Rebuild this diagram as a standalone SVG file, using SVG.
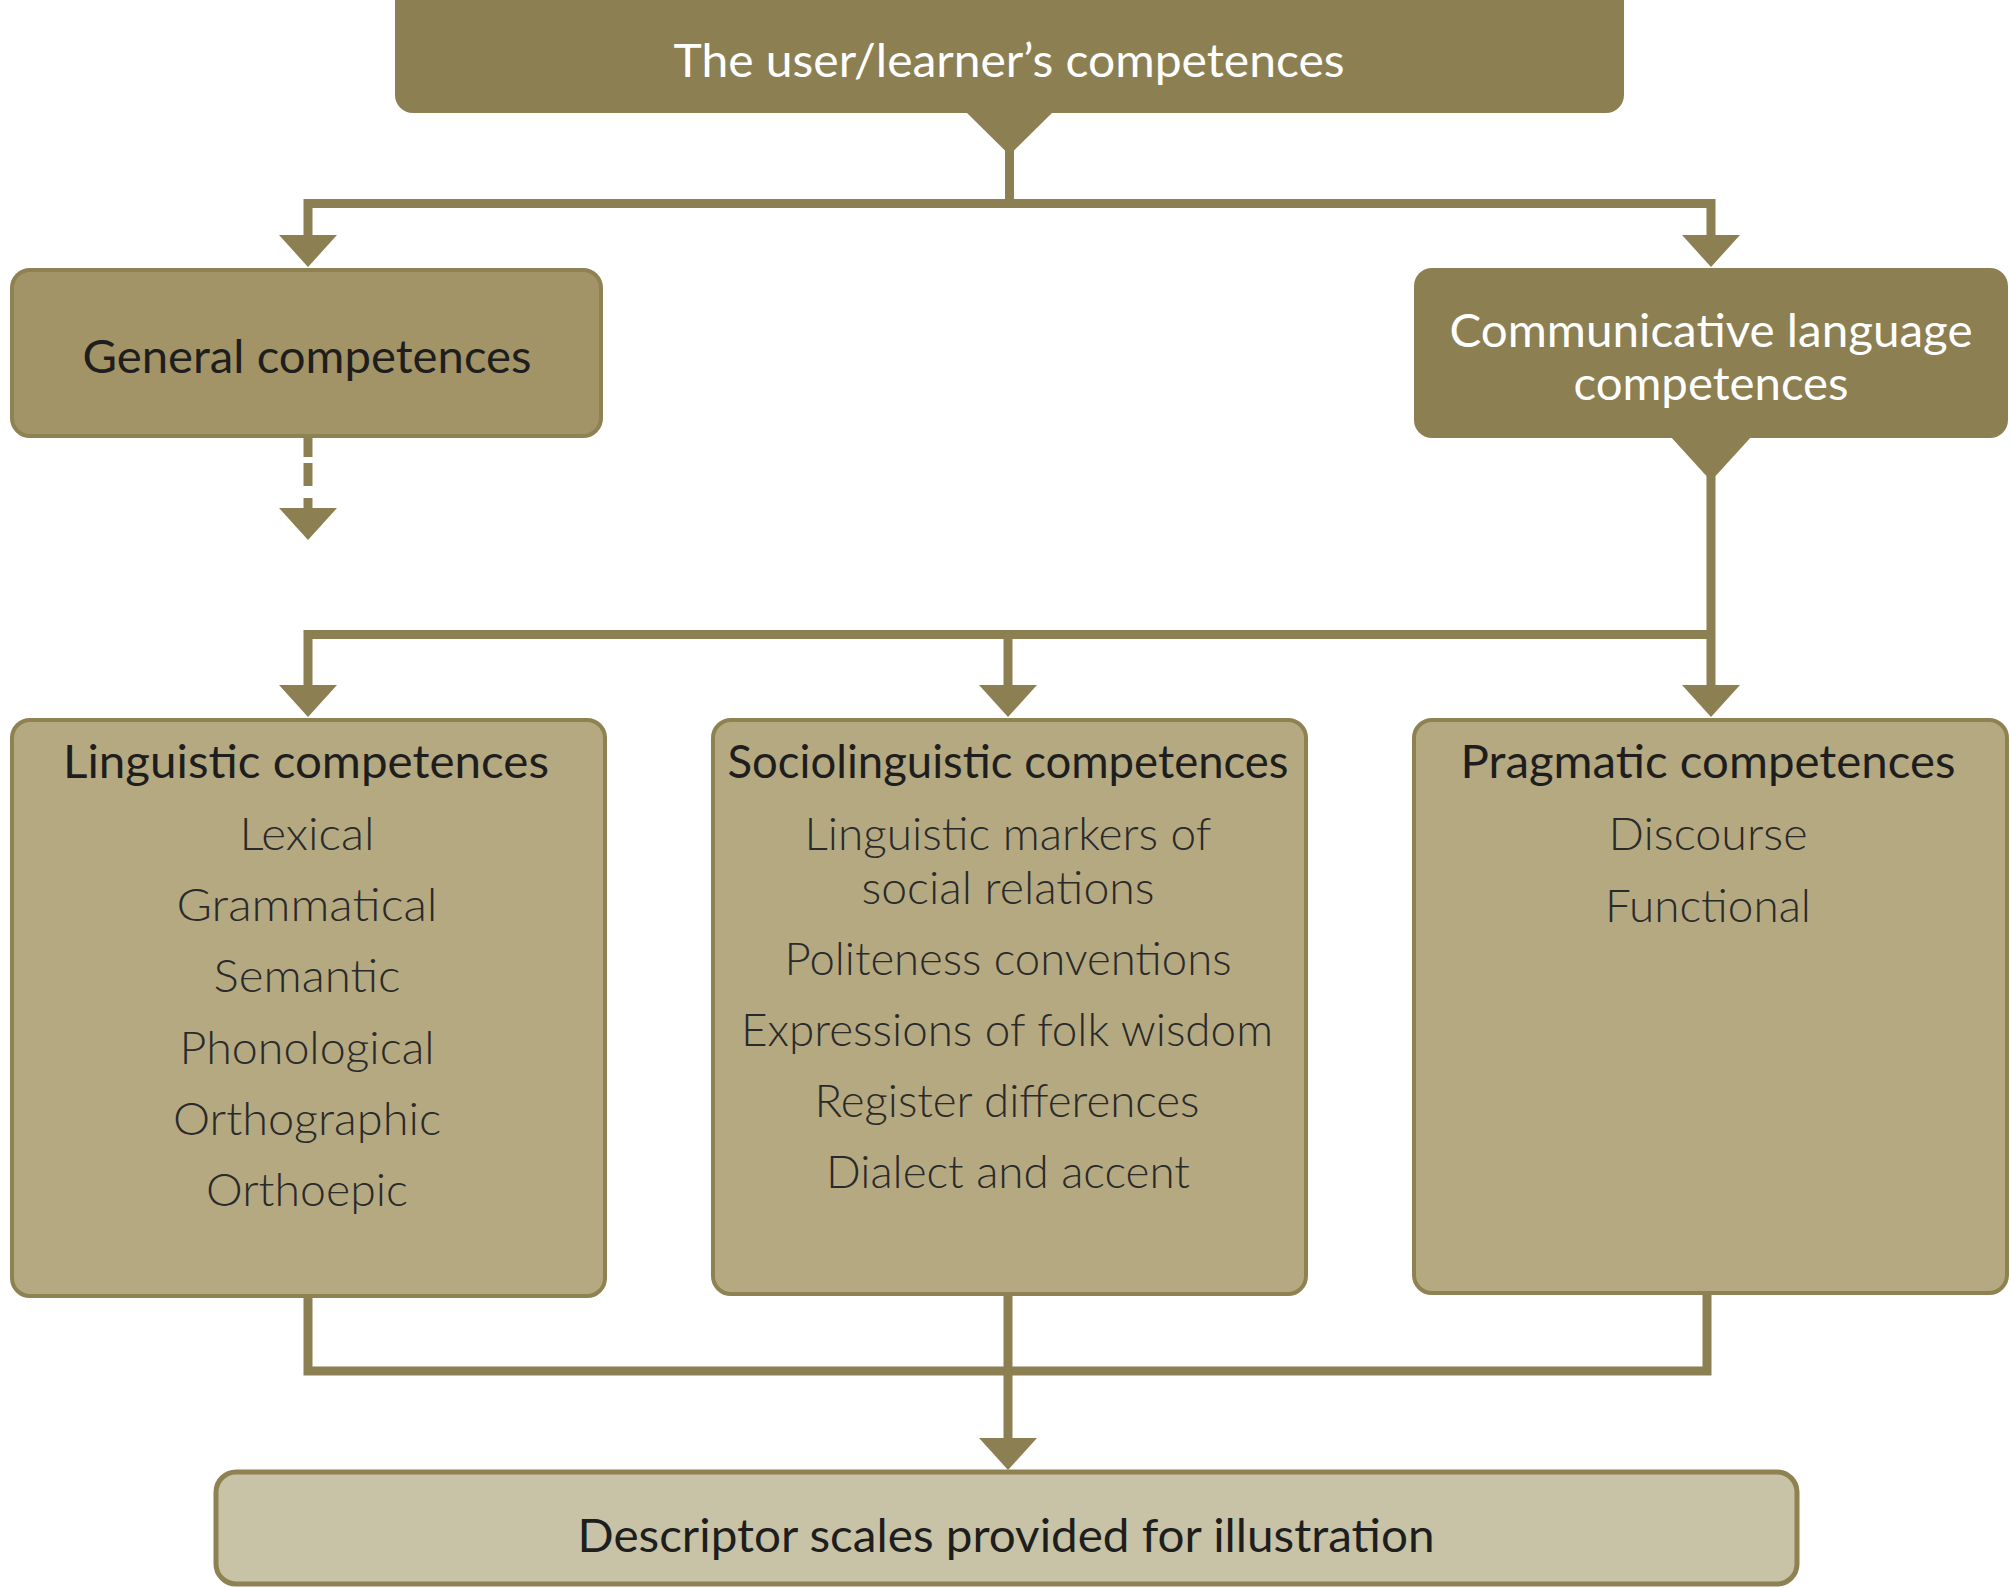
<svg xmlns="http://www.w3.org/2000/svg" width="2011" height="1588" viewBox="0 0 2011 1588">
  <style>
    .dark { fill: #8C7F52; }
    .box-general { fill: #A39467; stroke: #8E8152; stroke-width: 4; }
    .box-comp { fill: #B5A981; stroke: #8E8152; stroke-width: 4; }
    .box-desc { fill: #C8C3A6; stroke: #8E8152; stroke-width: 5; }
    .wire { fill: none; stroke: #8C7F52; stroke-width: 9; stroke-linejoin: miter; }
    .head { font-family: Lato, "Open Sans", sans-serif; font-size: 46px; fill: #1E1E1E; text-anchor: middle; }
    .item { font-family: Lato, "Open Sans", sans-serif; font-size: 46px; font-weight: 300; fill: #2A2A2A; text-anchor: middle; }
    .light { fill: #FFFFFF; }
  </style>
  <defs>
    <polygon id="arrowhead" points="-29,0 29,0 0,32" fill="#8C7F52"/>
  </defs>
  <rect width="2011" height="1588" fill="#FFFFFF"/>

  <!-- connectors -->
  <g id="connectors">
    <!-- top split -->
    <polygon class="dark" points="966,112 1053,112 1009.5,155"/>
    <line class="wire" x1="1009.5" y1="150" x2="1009.5" y2="204"/>
    <path class="wire" d="M308,240 V203.5 H1711 V240"/>
    <use href="#arrowhead" x="308" y="235"/>
    <use href="#arrowhead" x="1711" y="235"/>

    <!-- general competences: open-ended dashed arrow -->
    <line class="wire" x1="308" y1="437" x2="308" y2="457"/>
    <line class="wire" x1="308" y1="463" x2="308" y2="486"/>
    <line class="wire" x1="308" y1="498" x2="308" y2="510"/>
    <use href="#arrowhead" x="308" y="508"/>

    <!-- communicative language competences split -->
    <polygon class="dark" points="1670,436 1752,436 1711,481"/>
    <line class="wire" x1="1711" y1="476" x2="1711" y2="690"/>
    <path class="wire" d="M308,690 V634.5 H1711"/>
    <line class="wire" x1="1008" y1="634" x2="1008" y2="690"/>
    <use href="#arrowhead" x="308" y="685"/>
    <use href="#arrowhead" x="1008" y="685"/>
    <use href="#arrowhead" x="1711" y="685"/>

    <!-- merge to descriptor scales -->
    <path class="wire" d="M308,1296 V1371 H1707 V1292"/>
    <line class="wire" x1="1008" y1="1293" x2="1008" y2="1442"/>
    <use href="#arrowhead" x="1008" y="1438"/>
  </g>

  <!-- nodes -->
  <g id="node-user">
    <rect class="dark" x="395" y="-20" width="1229" height="133" rx="18"/>
    <text class="head light" x="1009" y="77" textLength="671" lengthAdjust="spacingAndGlyphs">The user/learner’s competences</text>
  </g>

  <g id="node-general">
    <rect class="box-general" x="12" y="270" width="589" height="166" rx="18"/>
    <text class="head" x="307" y="373" textLength="449" lengthAdjust="spacingAndGlyphs">General competences</text>
  </g>

  <g id="node-communicative">
    <rect class="dark" x="1414" y="268" width="594" height="170" rx="18"/>
    <text class="head light" x="1711" y="347" textLength="523" lengthAdjust="spacingAndGlyphs">Communicative language</text>
    <text class="head light" x="1711" y="400" textLength="275" lengthAdjust="spacingAndGlyphs">competences</text>
  </g>

  <g id="node-linguistic">
    <rect class="box-comp" x="12" y="720" width="593" height="576" rx="18"/>
    <text class="head" x="306" y="778" textLength="486" lengthAdjust="spacingAndGlyphs">Linguistic competences</text>
    <text class="item" x="307" y="850" textLength="135" lengthAdjust="spacingAndGlyphs">Lexical</text>
    <text class="item" x="307" y="921" textLength="261" lengthAdjust="spacingAndGlyphs">Grammatical</text>
    <text class="item" x="307" y="992" textLength="187" lengthAdjust="spacingAndGlyphs">Semantic</text>
    <text class="item" x="307" y="1064" textLength="255" lengthAdjust="spacingAndGlyphs">Phonological</text>
    <text class="item" x="307" y="1135" textLength="268" lengthAdjust="spacingAndGlyphs">Orthographic</text>
    <text class="item" x="307" y="1206" textLength="202" lengthAdjust="spacingAndGlyphs">Orthoepic</text>
  </g>

  <g id="node-sociolinguistic">
    <rect class="box-comp" x="713" y="720" width="593" height="574" rx="18"/>
    <text class="head" x="1008" y="778" textLength="561" lengthAdjust="spacingAndGlyphs">Sociolinguistic competences</text>
    <text class="item" x="1008" y="850" textLength="407" lengthAdjust="spacingAndGlyphs">Linguistic markers of</text>
    <text class="item" x="1008" y="904" textLength="293" lengthAdjust="spacingAndGlyphs">social relations</text>
    <text class="item" x="1008" y="975" textLength="447" lengthAdjust="spacingAndGlyphs">Politeness conventions</text>
    <text class="item" x="1007" y="1046" textLength="532" lengthAdjust="spacingAndGlyphs">Expressions of folk wisdom</text>
    <text class="item" x="1007" y="1117" textLength="385" lengthAdjust="spacingAndGlyphs">Register differences</text>
    <text class="item" x="1008" y="1188" textLength="364" lengthAdjust="spacingAndGlyphs">Dialect and accent</text>
  </g>

  <g id="node-pragmatic">
    <rect class="box-comp" x="1414" y="720" width="593" height="573" rx="18"/>
    <text class="head" x="1708" y="778" textLength="495" lengthAdjust="spacingAndGlyphs">Pragmatic competences</text>
    <text class="item" x="1708" y="850" textLength="199" lengthAdjust="spacingAndGlyphs">Discourse</text>
    <text class="item" x="1708" y="922" textLength="206" lengthAdjust="spacingAndGlyphs">Functional</text>
  </g>

  <g id="node-descriptors">
    <rect class="box-desc" x="216" y="1472" width="1581" height="112" rx="20"/>
    <text class="head" x="1006" y="1552" textLength="857" lengthAdjust="spacingAndGlyphs">Descriptor scales provided for illustration</text>
  </g>
</svg>
